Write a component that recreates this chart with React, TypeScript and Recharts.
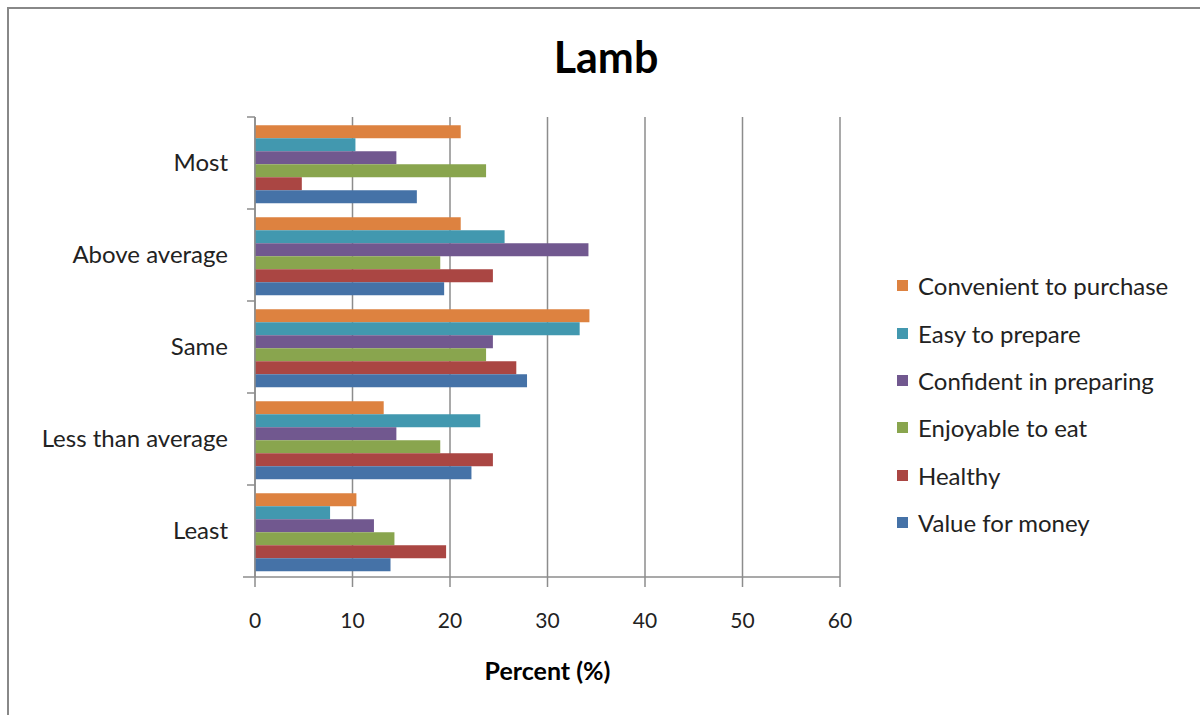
import React from "react";
import { BarChart, Bar, XAxis, YAxis, CartesianGrid } from "recharts";

const categories = ["Most", "Above average", "Same", "Less than average", "Least"];
const convenient = [21.1, 21.1, 34.3, 13.2, 10.4];
const easy = [10.3, 25.6, 33.3, 23.1, 7.7];
const confident = [14.5, 34.2, 24.4, 14.5, 12.2];
const enjoyable = [23.7, 19.0, 23.7, 19.0, 14.3];
const healthy = [4.8, 24.4, 26.8, 24.4, 19.6];
const valueForMoney = [16.6, 19.4, 27.9, 22.2, 13.9];
const xTicks = [0, 10, 20, 30, 40, 50, 60];

const series = [
  { key: "convenient", name: "Convenient to purchase", color: "#DD8240", values: convenient },
  { key: "easy", name: "Easy to prepare", color: "#4298AF", values: easy },
  { key: "confident", name: "Confident in preparing", color: "#71588F", values: confident },
  { key: "enjoyable", name: "Enjoyable to eat", color: "#89A54E", values: enjoyable },
  { key: "healthy", name: "Healthy", color: "#AA4643", values: healthy },
  { key: "value", name: "Value for money", color: "#4572A7", values: valueForMoney },
];

const data = categories.map((c, i) => {
  const row: Record<string, string | number> = { category: c };
  series.forEach((s) => (row[s.key] = s.values[i]));
  return row;
});

const FONT = "Lato, 'Open Sans', sans-serif";
const AXIS = "#8c8c8c";

function CategoryTick(props: any) {
  const { x, y, payload, index } = props;
  const half = payload && payload.offset ? payload.offset : 46;
  return (
    <g>
      <line x1={x + 19} x2={x + 27} y1={y - half} y2={y - half} stroke={AXIS} strokeWidth={1.5} />
      {index === categories.length - 1 && (
        <line x1={x + 15} x2={x + 27} y1={y + half} y2={y + half} stroke={AXIS} strokeWidth={1.5} />
      )}
      <text x={x} y={y} dy="0.35em" textAnchor="end" fontSize={24} fill="#222" fontFamily={FONT}>
        {payload.value}
      </text>
    </g>
  );
}

export default function App() {
  return (
    <div style={{ position: "absolute", left: 0, top: 0, width: 1200, height: 715, overflow: "hidden", background: "#fff", fontFamily: FONT }}>
      <div style={{ position: "absolute", left: 7, top: 7, width: 1300, height: 800, borderLeft: "2px solid #888", borderTop: "2px solid #888" }} />
      <div style={{ position: "absolute", left: 0, width: 1212, top: 31, textAlign: "center", fontSize: 43, lineHeight: 1.2, fontWeight: 700, color: "#000" }}>
        Lamb
      </div>
      <div style={{ position: "absolute", left: 255, width: 585, top: 655, textAlign: "center", fontSize: 25, lineHeight: 1.2, fontWeight: 700, color: "#000" }}>
        Percent (%)
      </div>
      <div style={{ position: "absolute", left: 0, top: 0 }}>
        <BarChart
          width={1200}
          height={715}
          data={data}
          layout="vertical"
          margin={{ top: 117, right: 360, bottom: 108, left: 0 }}
          barCategoryGap="9%"
          barGap={0}
        >
          <CartesianGrid horizontal={false} vertical stroke={AXIS} strokeWidth={1.5} />
          <XAxis
            type="number"
            domain={[0, 60]}
            ticks={xTicks}
            interval={0}
            stroke={AXIS}
            strokeWidth={1.5}
            tickSize={10}
            tickMargin={26}
            tick={{ fill: "#222", fontSize: 21, fontFamily: FONT }}
          />
          <YAxis
            type="category"
            dataKey="category"
            width={255}
            stroke={AXIS}
            strokeWidth={1.5}
            tickLine={false}
            tick={<CategoryTick />}
            tickMargin={21}
            interval={0}
          />
          {series.map((s) => (
            <Bar key={s.key} dataKey={s.key} name={s.name} fill={s.color} isAnimationActive={false} />
          ))}
        </BarChart>
      </div>
      <div style={{ position: "absolute", left: 897, top: 262 }}>
        {series.map((s) => (
          <div key={s.key} style={{ height: 47.4, display: "flex", alignItems: "center" }}>
            <span style={{ width: 11, height: 11, background: s.color, display: "inline-block", marginRight: 10, flexShrink: 0 }} />
            <span style={{ fontSize: 24, color: "#222", whiteSpace: "nowrap" }}>{s.name}</span>
          </div>
        ))}
      </div>
    </div>
  );
}
